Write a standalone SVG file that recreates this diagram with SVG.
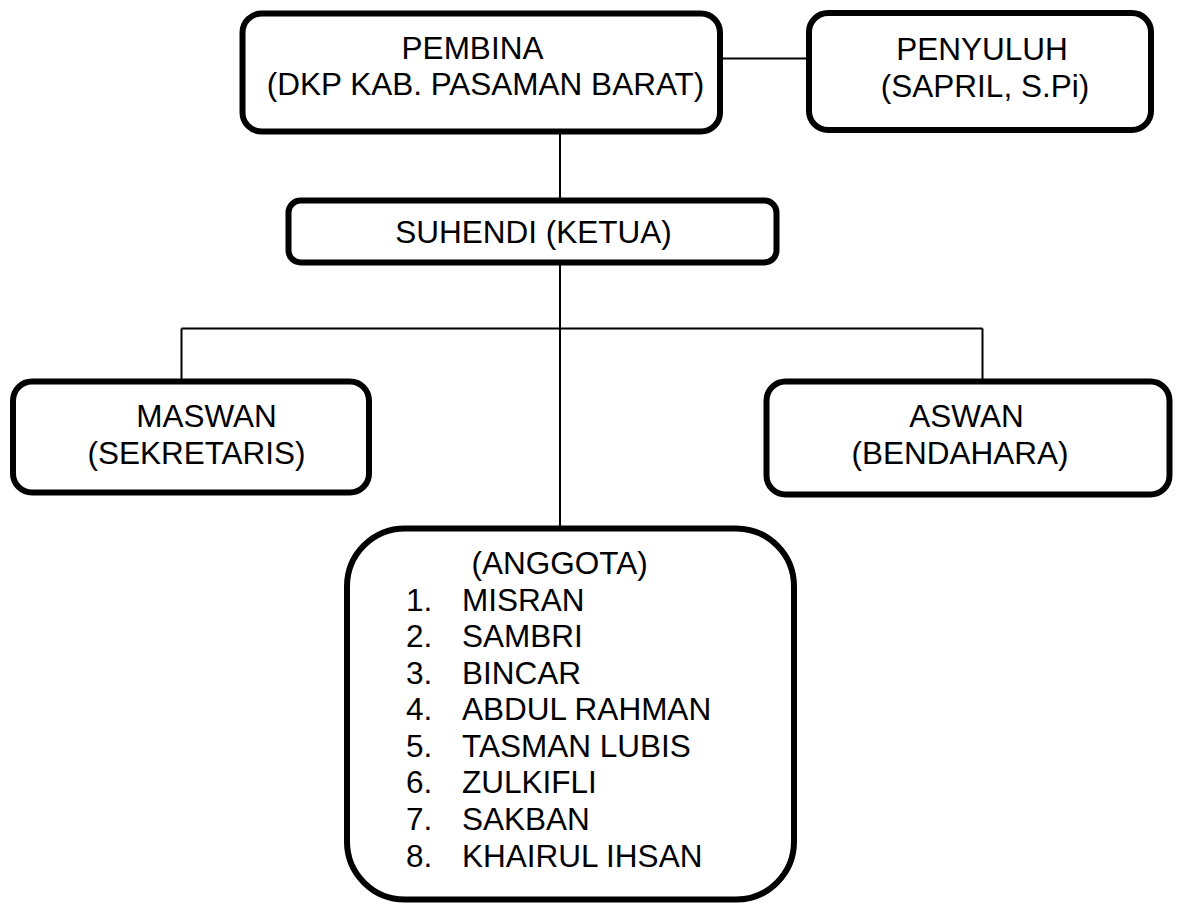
<svg xmlns="http://www.w3.org/2000/svg" width="1184" height="908" viewBox="0 0 1184 908">
<style>
.box{fill:#fff;stroke:#000;stroke-width:6}
.ln{fill:none;stroke:#000;stroke-width:2}
text{font-family:"Liberation Sans",Arial,sans-serif;font-size:31.5px;fill:#000}
.c{text-anchor:middle}
</style>
<rect width="1184" height="908" fill="#fff"/>
<g id="connectors">
<line class="ln" x1="720" y1="58.5" x2="809" y2="58.5"/>
<line class="ln" x1="560" y1="132" x2="560" y2="200"/>
<line class="ln" x1="560" y1="262" x2="560" y2="528"/>
<line class="ln" x1="181.5" y1="328.5" x2="982.5" y2="328.5"/>
<line class="ln" x1="181.5" y1="328.5" x2="181.5" y2="381"/>
<line class="ln" x1="982.5" y1="328.5" x2="982.5" y2="381"/>
</g>
<g id="pembina">
<rect class="box" x="242.5" y="13.5" width="477.5" height="118" rx="19"/>
<text class="c" x="472.5" y="58.5">PEMBINA</text>
<text class="c" x="485.5" y="95">(DKP KAB. PASAMAN BARAT)</text>
</g>
<g id="penyuluh">
<rect class="box" x="809" y="13" width="342" height="117" rx="19"/>
<text class="c" x="982" y="60">PENYULUH</text>
<text class="c" x="985" y="96.5">(SAPRIL, S.Pi)</text>
</g>
<g id="ketua">
<rect class="box" x="288.5" y="200.5" width="488" height="62" rx="12"/>
<text class="c" x="533.5" y="242.5">SUHENDI (KETUA)</text>
</g>
<g id="sekretaris">
<rect class="box" x="13" y="381.5" width="356" height="111" rx="19"/>
<text class="c" x="206.5" y="426.5">MASWAN</text>
<text class="c" x="196.5" y="463.5">(SEKRETARIS)</text>
</g>
<g id="bendahara">
<rect class="box" x="766.5" y="381.5" width="403" height="113" rx="19"/>
<text class="c" x="966.5" y="427">ASWAN</text>
<text class="c" x="960" y="464">(BENDAHARA)</text>
</g>
<g id="anggota">
<rect class="box" x="347" y="528.5" width="447" height="371" rx="58"/>
<text x="471.5" y="573.5">(ANGGOTA)</text>
<text x="406" y="610.5">1.</text><text x="462" y="610.5">MISRAN</text>
<text x="406" y="647">2.</text><text x="462" y="647">SAMBRI</text>
<text x="406" y="683.5">3.</text><text x="462" y="683.5">BINCAR</text>
<text x="406" y="720">4.</text><text x="462" y="720">ABDUL RAHMAN</text>
<text x="406" y="756.5">5.</text><text x="462" y="756.5">TASMAN LUBIS</text>
<text x="406" y="793">6.</text><text x="462" y="793">ZULKIFLI</text>
<text x="406" y="830">7.</text><text x="462" y="830">SAKBAN</text>
<text x="406" y="867">8.</text><text x="462" y="867">KHAIRUL IHSAN</text>
</g>
</svg>
